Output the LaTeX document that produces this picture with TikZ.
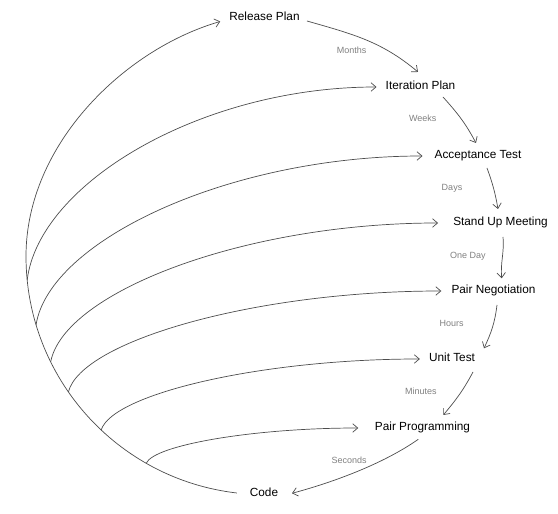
\documentclass[tikz,border=0pt]{standalone}
\usepackage{fontspec}
\setmainfont{Liberation Sans}
\usetikzlibrary{arrows.meta,calc}
\definecolor{linec}{HTML}{4D4D4D}
\definecolor{labc}{HTML}{808080}
\begin{document}
\begin{tikzpicture}[x=1pt,y=1pt,
  stage/.style={font=\fontsize{11.8}{14}\selectfont, inner xsep=9pt, inner ysep=2pt,
                text height=8.5pt, text depth=2.5pt, anchor=base},
  lab/.style={font=\fontsize{9}{11}\selectfont, text=labc, inner sep=1pt,
              text height=6.5pt, text depth=1.8pt},
  conn/.style={draw=linec, line width=0.7pt, -{Straight Barb[length=5pt,width=8.5pt]}}]
\useasboundingbox (0,0) rectangle (558,514);

% stages
\node[stage] (rel)  at (264.5,493.5) {Release Plan};
\node[stage] (ip)   at (420.5,424)   {Iteration Plan};
\node[stage] (acc)  at (478,355)     {Acceptance Test};
\node[stage] (sum)  at (500.5,288)   {Stand Up Meeting};
\node[stage] (pn)   at (493.5,220)   {Pair Negotiation};
\node[stage] (ut)   at (452,152)     {Unit Test};
\node[stage] (pp)   at (422.5,83)    {Pair Programming};
\node[stage] (code) at (264,17)      {Code};

% time labels
\node[lab] (lmonths)  at (351.7,463.3) {Months};
\node[lab] (lweeks)   at (422.7,395.3) {Weeks};
\node[lab] (ldays)    at (452,326)     {Days};
\node[lab] (loneday)  at (467.8,258.3) {One Day};
\node[lab] (lhours)   at (451.7,190)   {Hours};
\node[lab] (lminutes) at (420.8,122.3) {Minutes};
\node[lab] (lseconds) at (349.2,53.3)  {Seconds};

% chain on the right
\draw[conn] ([shift={(42.5,-3.5)}]rel.center) to[out=-16,in=140] ([shift={(-2.5,15)}]ip.center);
\draw[conn] ([shift={(22.5,-10)}]ip.center) to[out=-48,in=118] ([shift={(-2,13)}]acc.center);
\draw[conn] ([shift={(9,-12)}]acc.center) to[out=-70,in=100] ([shift={(-2.5,14)}]sum.center);
\draw[conn] ([shift={(2.5,-14)}]sum.center) to[out=-85,in=95] ([shift={(8.2,12.7)}]pn.center);
\draw[conn] ([shift={(3.5,-14)}]pn.center) to[out=-97,in=65] ([shift={(32,10.7)}]ut.center);
\draw[conn] ([shift={(21,-13)}]ut.center) to[out=-118,in=50] ([shift={(20.8,13)}]pp.center);
\draw[conn] ([shift={(-4.2,-11.3)}]pp.center) to[out=215,in=15,looseness=0.8] ([shift={(28,0.7)}]code.center);

% big arc from Code to Release Plan
\coordinate (ctr) at (264.3,257.7);
\coordinate (ca)   at ($(ctr)+(263.4:238.3)$);
\coordinate (bip)  at ($(ctr)+(185.7:238.3)$);
\coordinate (bacc) at ($(ctr)+(196.7:238.3)$);
\coordinate (bsum) at ($(ctr)+(206.3:238.3)$);
\coordinate (bpn)  at ($(ctr)+(214.7:238.3)$);
\coordinate (but)  at ($(ctr)+(226.8:238.3)$);
\coordinate (bpp)  at ($(ctr)+(240.3:238.3)$);

\draw[conn] (ca) arc[start angle=263.4, end angle=180, radius=238.3]
   .. controls (26,370) and (125,465) .. ([yshift=-4pt]rel.west);

% branches
\draw[conn] (bip)  .. controls +(12,97)     and +(-175,0) .. (ip.west);
\draw[conn] (bacc) .. controls +(13.5,84.5) and +(-193,0) .. ([xshift=-3pt]acc.west);
\draw[conn] (bsum) .. controls +(13.5,70)   and +(-193,0) .. ([xshift=-6pt]sum.west);
\draw[conn] (bpn)  .. controls +(13,51)     and +(-186,0) .. ([xshift=-1pt]pn.west);
\draw[conn] (but)  .. controls +(11,36)     and +(-159,0) .. (ut.west);
\draw[conn] (bpp)  .. controls +(7.4,18)    and +(-106,0) .. ([xshift=-7.5pt]pp.west);
\end{tikzpicture}
\end{document}
